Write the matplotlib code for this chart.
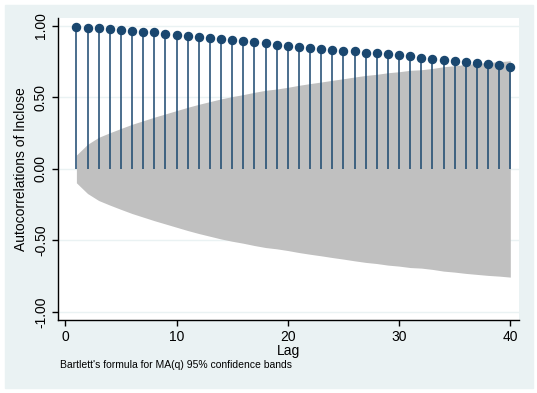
import matplotlib.pyplot as plt
import numpy as np
from matplotlib.patches import Rectangle

plt.rcParams['font.family'] = ['Liberation Sans', 'DejaVu Sans']

# autocorrelations of lnclose, lags 1..40
lags = np.arange(1, 41)
acf = [0.993, 0.988, 0.983, 0.976, 0.972, 0.967, 0.960, 0.955, 0.944, 0.939,
       0.932, 0.925, 0.913, 0.906, 0.902, 0.895, 0.885, 0.878, 0.869, 0.862,
       0.855, 0.848, 0.841, 0.834, 0.827, 0.822, 0.814, 0.808, 0.801, 0.794,
       0.787, 0.778, 0.771, 0.764, 0.755, 0.748, 0.741, 0.731, 0.724, 0.715]
# Bartlett 95% band half-width at each lag
band = [0.097, 0.172, 0.221, 0.253, 0.283, 0.312, 0.337, 0.362, 0.385, 0.408,
        0.431, 0.452, 0.471, 0.490, 0.506, 0.520, 0.536, 0.550, 0.559, 0.571,
        0.585, 0.597, 0.608, 0.620, 0.631, 0.643, 0.654, 0.662, 0.673, 0.680,
        0.690, 0.694, 0.703, 0.715, 0.722, 0.731, 0.738, 0.745, 0.750, 0.757]
yticks = [-1.0, -0.5, 0.0, 0.5, 1.0]
xticks = [0, 10, 20, 30, 40]

navy = '#1a476f'
bg = '#eaf2f3'

fig = plt.figure(figsize=(5.37, 3.93), dpi=100)
fig.patch.set_facecolor('white')
fig.patches.append(Rectangle((5 / 537, 5 / 393), 528 / 537, 383 / 393,
                             transform=fig.transFigure, color=bg, zorder=-10))

ax = fig.add_axes([57.7 / 537, 1 - 320 / 393, (519 - 57.7) / 537, (320 - 17.7) / 393])
ax.set_facecolor('white')

for y in yticks:
    ax.axhline(y, color=bg, lw=1.0, zorder=0)

band = np.array(band)
ax.fill_between(lags, -band, band, color='#c0c0c0', lw=0, zorder=1)
ax.vlines(lags, 0, acf, color=navy, lw=1.1, zorder=2)
ax.plot(lags, acf, 'o', color=navy, ms=5.8, zorder=3)

ax.set_xlim(-0.68, 40.78)
ax.set_ylim(-1.057, 1.058)
ax.set_yticks(yticks)
ax.set_yticklabels(['%.2f' % v for v in yticks], rotation=90, va='center')
ax.set_xticks(xticks)
for s in ['top', 'right']:
    ax.spines[s].set_visible(False)
for s in ['left', 'bottom']:
    ax.spines[s].set_linewidth(1.0)
ax.tick_params(direction='out', length=4, width=1, labelsize=10, pad=3)

ax.set_ylabel('Autocorrelations of lnclose', fontsize=10, labelpad=4)
ax.set_xlabel('Lag', fontsize=10, labelpad=0)
fig.text(60 / 537, 1 - 365 / 393, "Bartlett's formula for MA(q) 95% confidence bands",
         fontsize=7.5, va='center', ha='left')

fig.savefig('out.png', dpi=100, facecolor=fig.get_facecolor())
